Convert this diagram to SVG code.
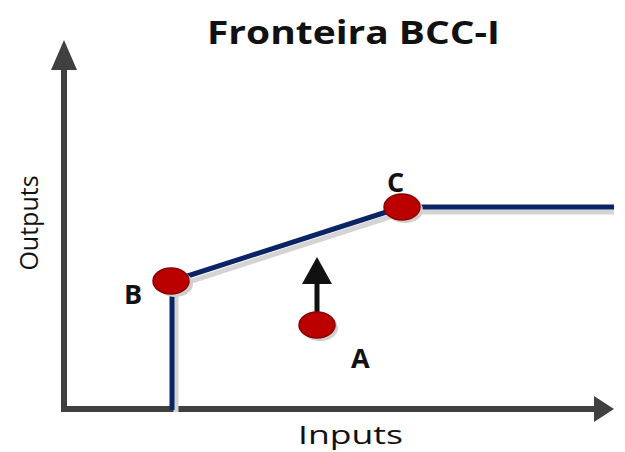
<svg xmlns="http://www.w3.org/2000/svg" width="625" height="452" viewBox="0 0 625 452">
<style>
.axis{stroke:#404040;stroke-width:6;fill:none}
.front{stroke:#0b2466;stroke-width:5;fill:none;stroke-linejoin:round}
.shadow{stroke:#d4d4d4;stroke-width:5;fill:none}
.pt{fill:#bb0000;stroke:#8a0000;stroke-width:1.5}
.pts{fill:#cfcfcf}
.lbl{font-family:"Open Sans","DejaVu Sans",sans-serif;font-weight:bold;font-size:27px;fill:#111}
.ax{font-family:"Open Sans","DejaVu Sans",sans-serif;font-size:25px;fill:#111}
.title{font-family:"Open Sans","DejaVu Sans",sans-serif;font-weight:bold;font-size:32px;fill:#111}
</style>
<rect width="625" height="452" fill="#fff"/>
<text class="title" x="207" y="44" textLength="293" lengthAdjust="spacingAndGlyphs">Fronteira BCC-I</text>
<g id="axes">
<polyline class="axis" points="64,66 64,409 598,409"/>
<polygon points="64,40 51,70 77,70" fill="#404040"/>
<polygon points="614,409 594,396 594,422" fill="#404040"/>
<text class="ax" x="298" y="444" textLength="105" lengthAdjust="spacingAndGlyphs">Inputs</text>
<text class="ax" transform="translate(38,223) rotate(-90)" text-anchor="middle">Outputs</text>
</g>
<g id="connectors">
<polyline class="shadow" points="176,412 176,286 405,212 614,212"/>
<polyline class="front" points="172,410 172,281 402,207 614,207"/>
<line x1="317" y1="314" x2="317" y2="280" stroke="#111" stroke-width="5"/>
<polygon points="317,257 302,284 332,284" fill="#111"/>
</g>
<g id="node-B">
<ellipse class="pts" cx="175" cy="284" rx="18" ry="13"/>
<ellipse class="pt" cx="171" cy="281" rx="18" ry="13"/>
<text class="lbl" x="124" y="304">B</text>
</g>
<g id="node-C">
<ellipse class="pts" cx="405" cy="210" rx="18" ry="13"/>
<ellipse class="pt" cx="402" cy="207" rx="18" ry="13"/>
<text class="lbl" x="387" y="192">C</text>
</g>
<g id="node-A">
<ellipse class="pts" cx="320" cy="328" rx="18" ry="13"/>
<ellipse class="pt" cx="317" cy="325" rx="18" ry="13"/>
<text class="lbl" x="351" y="368">A</text>
</g>
</svg>
